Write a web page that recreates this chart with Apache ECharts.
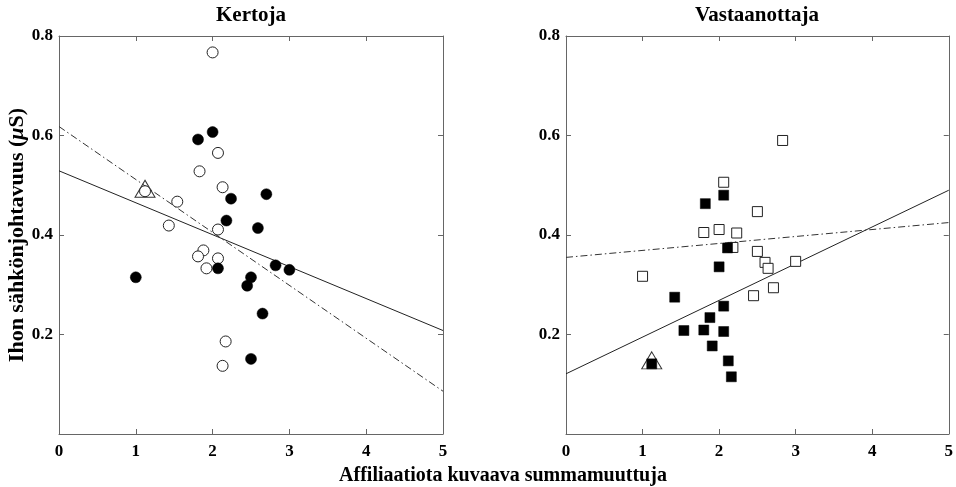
<!DOCTYPE html>
<html><head><meta charset="utf-8">
<script src="https://cdn.jsdelivr.net/npm/echarts@6/dist/echarts.min.js"></script>
<style>html,body{margin:0;padding:0;background:#fff}#c{width:956px;height:487px}</style>
</head><body><div id="c"></div>
<script>
// Kertoja (left)
const kOpenX = [2.00,2.07,1.83,2.13,1.12,1.54,1.43,2.07,1.88,1.81,2.07,1.92,2.17,2.13];
const kOpenY = [0.767,0.565,0.528,0.496,0.488,0.467,0.419,0.411,0.369,0.357,0.353,0.333,0.186,0.137];
const kFillX = [2.00,1.81,2.70,2.24,2.18,2.59,2.82,3.00,2.07,1.00,2.50,2.45,2.65,2.50];
const kFillY = [0.607,0.592,0.482,0.473,0.429,0.414,0.339,0.330,0.333,0.315,0.315,0.298,0.242,0.151];
const kTri = [1.12, 0.491];
const kSolid = [[0,0.529],[5,0.208]];
const kDash = [[0,0.618],[5,0.086]];
// Vastaanottaja (right)
const vOpenX = [2.83,2.06,2.50,1.80,2.00,2.23,2.18,2.50,2.60,2.64,3.00,1.00,2.71,2.45];
const vOpenY = [0.590,0.506,0.447,0.405,0.411,0.404,0.375,0.367,0.345,0.333,0.347,0.317,0.294,0.278];
const vFillX = [2.06,1.82,2.11,2.00,1.42,2.06,1.88,1.54,1.80,2.06,1.91,2.12,2.16,1.12];
const vFillY = [0.480,0.463,0.374,0.336,0.275,0.257,0.234,0.208,0.209,0.206,0.177,0.147,0.115,0.141];
const vTri = [1.12, 0.146];
const vSolid = [[0,0.121],[5,0.490]];
const vDash = [[0,0.355],[5,0.425]];

const titles = ['Kertoja','Vastaanottaja'];
const xTicks = [0,1,2,3,4,5];
const yTicks = [0.2,0.4,0.6,0.8];
const xName = 'Affiliaatiota kuvaava summamuuttuja';

const zip = (a,b) => a.map((v,i)=>[v,b[i]]);
const FONT = 'Liberation Serif';
const lblStyle = {fontFamily:FONT,fontWeight:'bold',fontSize:17,color:'#000'};
const axCol = '#666';

const grids = [
  {left:59, top:36, width:384, height:398},
  {left:566, top:36, width:383, height:398}
];
const xAxis = [], yAxis = [];
const line = {show:true,onZero:false,lineStyle:{color:axCol,width:1}};
const tick = {show:true,inside:true,length:5,lineStyle:{color:axCol}};
for (let g=0; g<2; g++){
  xAxis.push({gridIndex:g, type:'value', min:xTicks[0], max:xTicks[xTicks.length-1], interval:1, position:'bottom',
    axisLine:line, axisTick:tick, axisLabel:Object.assign({margin:9},lblStyle), splitLine:{show:false}});
  xAxis.push({gridIndex:g, type:'value', min:xTicks[0], max:xTicks[xTicks.length-1], interval:1, position:'top',
    axisLine:line, axisTick:tick, axisLabel:{show:false}, splitLine:{show:false}});
  yAxis.push({gridIndex:g, type:'value', min:0, max:0.8, interval:0.2, position:'left',
    axisLine:line, axisTick:tick,
    axisLabel:Object.assign({margin:6, formatter:v=> yTicks.some(t=>Math.abs(t-v)<1e-9)? v.toFixed(1):''},lblStyle), splitLine:{show:false},
    name: g===0 ? '{b|Ihon sähkönjohtavuus (}{i|μ}{b|S)}' : '', nameLocation:'middle', nameGap:30,
    nameTextStyle:{rich:{b:{fontFamily:FONT,fontWeight:'bold',fontSize:22,color:'#000'},i:{fontFamily:FONT,fontWeight:'bold',fontStyle:'italic',fontSize:22,color:'#000'}}}});
  yAxis.push({gridIndex:g, type:'value', min:0, max:0.8, interval:0.2, position:'right',
    axisLine:line, axisTick:tick, axisLabel:{show:false}, splitLine:{show:false}});
}

function panel(g, openPts, fillPts, tri, solid, dash, sym, symSize){
  const xi = g*2, yi = g*2;
  return [
    {type:'line', xAxisIndex:xi, yAxisIndex:yi, data:solid, symbol:'none', lineStyle:{color:'#222',width:1,type:'solid'}, z:1, silent:true},
    {type:'line', xAxisIndex:xi, yAxisIndex:yi, data:dash, symbol:'none', lineStyle:{color:'#333',width:1,type:[7,3,1.5,3]}, z:1, silent:true},
    {type:'scatter', xAxisIndex:xi, yAxisIndex:yi, data:[tri], symbol:'triangle', symbolSize:[20,17], symbolOffset:[0,-1],
      itemStyle:{color:'rgba(0,0,0,0)',borderColor:'#333',borderWidth:1,opacity:1}, z:2},
    {type:'scatter', xAxisIndex:xi, yAxisIndex:yi, data:openPts, symbol:sym, symbolSize:symSize,
      itemStyle:{color:'#fff',borderColor:'#222',borderWidth:1,opacity:1}, z:3},
    {type:'scatter', xAxisIndex:xi, yAxisIndex:yi, data:fillPts, symbol:sym, symbolSize:symSize,
      itemStyle:{color:'#000',borderColor:'#000',borderWidth:0.5,opacity:1}, z:4}
  ];
}

const tStyle = {fontFamily:FONT,fontWeight:'bold',fontSize:21,color:'#000'};
const option = {
  animation:false,
  backgroundColor:'#fff',
  title:[
    {text:titles[0], left:251, top:5, textAlign:'center', padding:0, textStyle:tStyle},
    {text:titles[1], left:757, top:5, textAlign:'center', padding:0, textStyle:tStyle},
    {text:xName, left:503, top:466, textAlign:'center', padding:0, textStyle:{fontFamily:FONT,fontWeight:'bold',fontSize:20,color:'#000'}}
  ],
  grid:grids,
  xAxis:xAxis,
  yAxis:yAxis,
  series:[].concat(
    panel(0, zip(kOpenX,kOpenY), zip(kFillX,kFillY), kTri, kSolid, kDash, 'circle', 11),
    panel(1, zip(vOpenX,vOpenY), zip(vFillX,vFillY), vTri, vSolid, vDash, 'rect', 10)
  )
};
echarts.init(document.getElementById('c'), null, {renderer:'canvas'}).setOption(option);
</script></body></html>
